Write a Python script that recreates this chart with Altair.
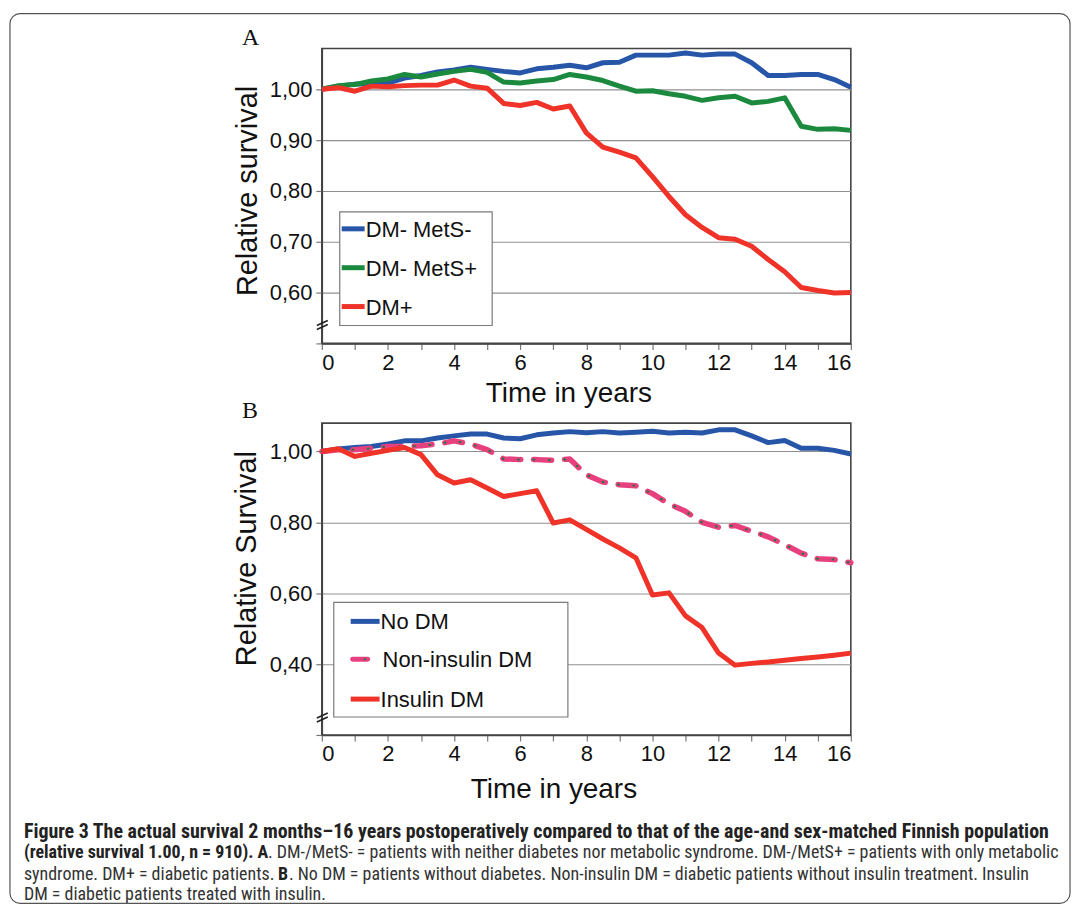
import altair as alt
import pandas as pd

# Follow-up time (years) shared by all survival curves
YEARS = [0, 0.5, 1, 1.5, 2, 2.5, 3, 3.5, 4, 4.5, 5, 5.5, 6, 6.5, 7, 7.5, 8,
         8.5, 9, 9.5, 10, 10.5, 11, 11.5, 12, 12.5, 13, 13.5, 14, 14.5, 15, 15.5, 16]
TICK_YEARS = [0, 1, 2, 3, 4, 5, 6, 7, 8, 9, 10, 11, 12, 13, 14, 15, 16]

# Panel A: relative survival by metabolic status
A_NAMES = ["DM- MetS-", "DM- MetS+", "DM+"]
A_DM_NEG_METS_NEG = [1.000, 1.006, 1.010, 1.010, 1.012, 1.022, 1.027, 1.034, 1.038, 1.043, 1.039,
                     1.035, 1.032, 1.040, 1.043, 1.047, 1.042, 1.052, 1.053, 1.067, 1.067, 1.067,
                     1.071, 1.067, 1.069, 1.069, 1.052, 1.027, 1.027, 1.029, 1.029, 1.019, 1.004]
A_DM_NEG_METS_POS = [1.000, 1.007, 1.009, 1.016, 1.020, 1.029, 1.024, 1.030, 1.035, 1.039, 1.033,
                     1.014, 1.012, 1.016, 1.019, 1.029, 1.024, 1.017, 1.006, 0.996, 0.997, 0.991,
                     0.986, 0.978, 0.983, 0.986, 0.973, 0.976, 0.983, 0.927, 0.921, 0.922, 0.919]
A_DM_POS = [1.000, 1.003, 0.996, 1.006, 1.005, 1.007, 1.008, 1.008, 1.018, 1.006, 1.002,
            0.972, 0.968, 0.974, 0.961, 0.967, 0.914, 0.886, 0.876, 0.865, 0.828, 0.789,
            0.753, 0.728, 0.708, 0.705, 0.691, 0.665, 0.641, 0.610, 0.604, 0.599, 0.600]
A_Y_TICKS = [0.5, 0.6, 0.7, 0.8, 0.9, 1.0]

# Panel B: relative survival by diabetes treatment
B_NAMES = ["No DM", "Non-insulin DM", "Insulin DM"]
B_NO_DM = [1.000, 1.007, 1.011, 1.014, 1.021, 1.030, 1.030, 1.038, 1.044, 1.049, 1.049,
           1.038, 1.036, 1.047, 1.052, 1.056, 1.053, 1.056, 1.052, 1.054, 1.057, 1.052,
           1.054, 1.052, 1.061, 1.061, 1.044, 1.025, 1.031, 1.009, 1.009, 1.003, 0.993]
B_NON_INSULIN = [1.000, 1.005, 1.005, 1.009, 1.014, 1.014, 1.016, 1.021, 1.030, 1.021, 1.005,
                 0.979, 0.977, 0.977, 0.975, 0.979, 0.934, 0.914, 0.906, 0.903, 0.881, 0.852,
                 0.831, 0.800, 0.786, 0.791, 0.775, 0.759, 0.737, 0.713, 0.697, 0.695, 0.686]
B_INSULIN = [1.000, 1.008, 0.986, 0.995, 1.003, 1.011, 0.991, 0.934, 0.911, 0.920, 0.897,
             0.873, 0.881, 0.889, 0.798, 0.807, 0.780, 0.753, 0.728, 0.700, 0.595, 0.601,
             0.536, 0.503, 0.431, 0.397, 0.402, 0.406, 0.411, 0.416, 0.420, 0.425, 0.431]
B_Y_TICKS = [0.2, 0.4, 0.6, 0.8, 1.0]

CAPTION_BOLD_1 = ("Figure 3 The actual survival 2 months\u201316 years postoperatively compared "
                  "to that of the age-and sex-matched Finnish population")
CAPTION_BOLD_2 = "(relative survival 1.00, n = 910). A"
CAPTION_2 = (". DM-/MetS- = patients with neither diabetes nor metabolic syndrome. "
             "DM-/MetS+ = patients with only metabolic")
CAPTION_3A = "syndrome. DM+ = diabetic patients. "
CAPTION_3B = "B"
CAPTION_3C = (". No DM = patients without diabetes. Non-insulin DM = diabetic patients "
              "without insulin treatment. Insulin")
CAPTION_4 = "DM = diabetic patients treated with insulin."

BLUE = "#2756a8"
GREEN = "#1c8a3e"
RED = "#ef3329"
PINK = "#e8407f"
DOT_GREEN = "#1f7a3a"

SANS = "Liberation Sans, Arial, sans-serif"
SERIF = "Liberation Serif, Times New Roman, serif"
NARROW = "Liberation Sans Narrow, Roboto Condensed, DejaVu Sans Condensed, Liberation Sans, sans-serif"

ONE = pd.DataFrame({"k": [0]})


def curve(values):
    return pd.DataFrame({"year": YEARS, "survival": values})


def label(txt, x, y, size, font=SANS, weight="normal", angle=0, align="left",
          color="#111111"):
    return alt.Chart(ONE).mark_text(
        text=txt, font=font, fontSize=size, fontWeight=weight, angle=angle,
        align=align, baseline="middle", color=color,
    ).encode(x=alt.value(x), y=alt.value(y))


def hline(x1, x2, y, color, width):
    return alt.Chart(ONE).mark_rule(color=color, strokeWidth=width).encode(
        x=alt.value(x1), x2=alt.value(x2), y=alt.value(y))


def seg(x1, y1, x2, y2, color="#222222", width=1.6):
    return alt.Chart(ONE).mark_rule(color=color, strokeWidth=width).encode(
        x=alt.value(x1), y=alt.value(y1), x2=alt.value(x2), y2=alt.value(y2))


def box(x1, x2, y1, y2):
    return alt.Chart(ONE).mark_rect(fill="white", stroke="#7a7a7a", strokeWidth=1.2).encode(
        x=alt.value(x1), x2=alt.value(x2), y=alt.value(y1), y2=alt.value(y2))


x_axis = alt.Axis(values=TICK_YEARS, labelExpr="datum.value % 2 ? '' : datum.label",
                  title=None, grid=False, tickSize=6, labelPadding=3)
X = alt.X("year:Q", scale=alt.Scale(domain=[0, 16], nice=False), axis=x_axis)


def y_enc(domain, ticks, cut):
    return alt.Y(
        "survival:Q",
        scale=alt.Scale(domain=domain, nice=False, zero=False),
        axis=alt.Axis(values=ticks, title=None, grid=True, tickSize=6, labelPadding=4,
                      labelExpr=f"datum.value < {cut} ? '' : "
                                "replace(format(datum.value, '.2f'), '.', ',')"),
    )


def line(values, color, y, width=5.0, dash=None):
    props = dict(color=color, strokeWidth=width, strokeJoin="round")
    if dash is not None:
        props["strokeDash"] = dash
        props["strokeCap"] = "round"
    return alt.Chart(curve(values)).mark_line(**props).encode(x=X, y=y)


# ---------- Panel A ----------
YA = y_enc([0.5, 1.08], A_Y_TICKS, 0.55)
panel_a = alt.layer(
    line(A_DM_NEG_METS_NEG, BLUE, YA),
    line(A_DM_NEG_METS_POS, GREEN, YA),
    line(A_DM_POS, RED, YA),
    box(18, 171, 164, 278),
    hline(20, 43, 181, BLUE, 5), label(A_NAMES[0], 44, 182, 22),
    hline(20, 43, 220, GREEN, 5), label(A_NAMES[1], 44, 221, 22),
    hline(20, 43, 259, RED, 5), label(A_NAMES[2], 44, 260, 22),
    seg(-5, 282, 6, 277), seg(-5, 278, 6, 273),
    label("A", -80, -11, 24, font=SERIF),
    label("Relative survival", -74, 143, 29, angle=270, align="center"),
    label("Time in years", 248, 347, 28, align="center"),
).properties(width=531, height=296)

# ---------- Panel B ----------
YB = y_enc([0.2, 1.08], B_Y_TICKS, 0.3)
cap_x = -299          # caption left edge, relative to the lower plot
cap_bold = 20
cap_size = 18
panel_b = alt.layer(
    line(B_NO_DM, BLUE, YB),
    line(B_NON_INSULIN, PINK, YB, width=5.5, dash=[18, 13]),
    line(B_NON_INSULIN, DOT_GREEN, YB, width=2.2, dash=[0.5, 15]),
    line(B_INSULIN, RED, YB),
    box(12, 247, 180, 295),
    hline(29, 58, 199, BLUE, 5), label(B_NAMES[0], 59, 200, 22),
    alt.Chart(ONE).mark_rule(color=PINK, strokeWidth=5, strokeCap="round").encode(
        x=alt.value(31), x2=alt.value(46), y=alt.value(237)),
    alt.Chart(ONE).mark_circle(color=DOT_GREEN, size=5, opacity=1).encode(
        x=alt.value(43), y=alt.value(237)),
    label(B_NAMES[1], 61, 238, 22),
    hline(29, 58, 277, RED, 5), label(B_NAMES[2], 59, 278, 22),
    seg(-5, 300, 6, 295), seg(-5, 296, 6, 291),
    label("B", -80, -12, 24, font=SERIF),
    label("Relative Survival", -75, 136, 29, angle=270, align="center"),
    label("Time in years", 233, 368, 28, align="center"),
    # figure caption
    label(CAPTION_BOLD_1, cap_x, 410, cap_bold, font=NARROW, weight="bold", color="#222222"),
    label(CAPTION_BOLD_2, cap_x, 432, cap_size, font=NARROW, weight="bold", color="#222222"),
    label(CAPTION_2, cap_x + 245, 432, cap_size, font=NARROW, color="#333333"),
    label(CAPTION_3A, cap_x, 454, cap_size, font=NARROW, color="#333333"),
    label(CAPTION_3B, cap_x + 255, 454, cap_size, font=NARROW, weight="bold", color="#222222"),
    label(CAPTION_3C, cap_x + 266, 454, cap_size, font=NARROW, color="#333333"),
    label(CAPTION_4, cap_x, 474, cap_size, font=NARROW, color="#333333"),
    # outer figure frame
    alt.Chart(ONE).mark_rect(fillOpacity=0, stroke="#555555", strokeWidth=1.2,
                             cornerRadius=10).encode(
        x=alt.value(-313), x2=alt.value(751), y=alt.value(-411), y2=alt.value(482)),
).properties(width=531, height=313)

chart = alt.vconcat(
    panel_a, panel_b, spacing=80, bounds="flush",
    padding={"left": 8, "top": 10, "right": 3, "bottom": 1},
).configure_view(
    stroke="#444444", strokeWidth=1.6,
).configure_axis(
    domainColor="#444444", domainWidth=1.6, tickColor="#777777", tickWidth=1.2,
    labelFont=SANS, labelFontSize=22, labelColor="#111111",
    gridColor="#8f8f8f", gridWidth=1.1,
)

chart.save("out.html", embed_options={"renderer": "svg", "actions": False})
